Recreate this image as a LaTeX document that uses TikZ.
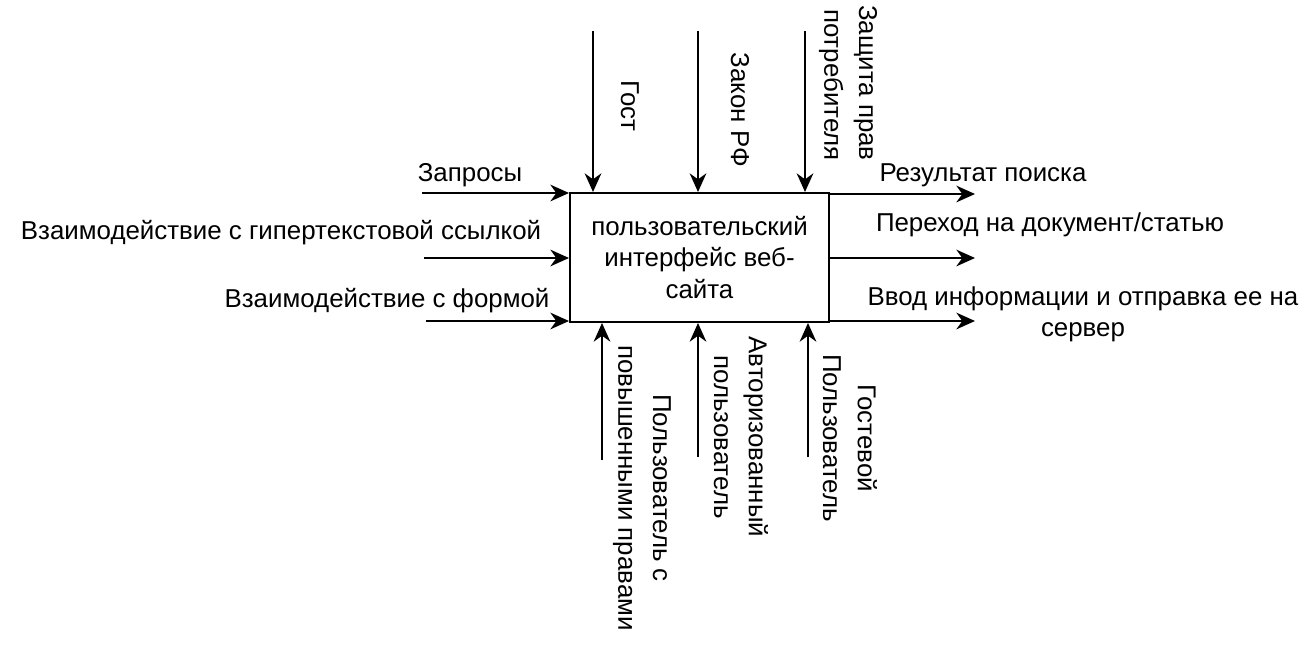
\documentclass[tikz,border=0pt]{standalone}
\usepackage{fontspec}
\setmainfont{Liberation Sans}
\usetikzlibrary{positioning,calc,arrows.meta}

\begin{document}
\begin{tikzpicture}[
    x=0.75pt, y=-0.75pt,
    font=\fontsize{19.4}{23.5}\selectfont, >={Stealth[length=14pt,width=12.5pt,inset=4.5pt]},
    func/.style={draw, line width=1.5pt, align=center, minimum width=194.25pt, minimum height=96.75pt, inner sep=0pt},
    lbl/.style={align=center, inner sep=0pt},
    vlbl/.style={lbl, rotate=-90, font=\fontsize{19.4}{26}\selectfont},
    flow/.style={->, line width=1.5pt}
  ]
    \useasboundingbox (0,0) rectangle (1316,664);

    \node[func] (ui) at (699.5,257.5) {пользовательский\\интерфейс веб-\\сайта};

    % Входы
    \coordinate (in1) at (422,193);
    \coordinate (in2) at (424,258);
    \coordinate (in3) at (426,321);
    \draw[flow] (in1) -- (in1 -| ui.west);
    \draw[flow] (in2) -- (in2 -| ui.west);
    \draw[flow] (in3) -- (in3 -| ui.west);
    \node[lbl] (lin1) at (470,175) {Запросы};
    \node[lbl] (lin2) at (281,233) {Взаимодействие с гипертекстовой ссылкой};
    \node[lbl] (lin3) at (387,301) {Взаимодействие с формой};

    % Выходы
    \coordinate (out1) at (975,194);
    \coordinate (out2) at (975,258);
    \coordinate (out3) at (975,321);
    \draw[flow] (out1 -| ui.east) -- (out1);
    \draw[flow] (out2 -| ui.east) -- (out2);
    \draw[flow] (out3 -| ui.east) -- (out3);
    \node[lbl] (lout1) at (983,175) {Результат поиска};
    \node[lbl] (lout2) at (1050,225) {Переход на документ/статью};
    \node[lbl] (lout3) at (1083,314) {Ввод информации и отправка ее на\\сервер};

    % Управление
    \coordinate (ctl1) at (593,31);
    \coordinate (ctl2) at (698,31);
    \coordinate (ctl3) at (805,31);
    \draw[flow] (ctl1) -- (ctl1 |- ui.north);
    \draw[flow] (ctl2) -- (ctl2 |- ui.north);
    \draw[flow] (ctl3) -- (ctl3 |- ui.north);
    \node[vlbl] (lctl1) at (630,106) {Гост};
    \node[vlbl] (lctl2) at (740,110) {Закон РФ};
    \node[vlbl, align=right] (lctl3) at (848,83) {Защита прав\\потребителя};

    % Механизмы
    \coordinate (mech1) at (602,460);
    \coordinate (mech2) at (698,457);
    \coordinate (mech3) at (808,457);
    \draw[flow] (mech1) -- (mech1 |- ui.south);
    \draw[flow] (mech2) -- (mech2 |- ui.south);
    \draw[flow] (mech3) -- (mech3 |- ui.south);
    \node[vlbl] (lmech1) at (642,488) {Пользователь с\\повышенными правами};
    \node[vlbl] (lmech2) at (741,437) {Авторизованный\\пользователь};
    \node[vlbl] (lmech3) at (850,438) {Гостевой\\Пользователь};
  \end{tikzpicture}
\end{document}
